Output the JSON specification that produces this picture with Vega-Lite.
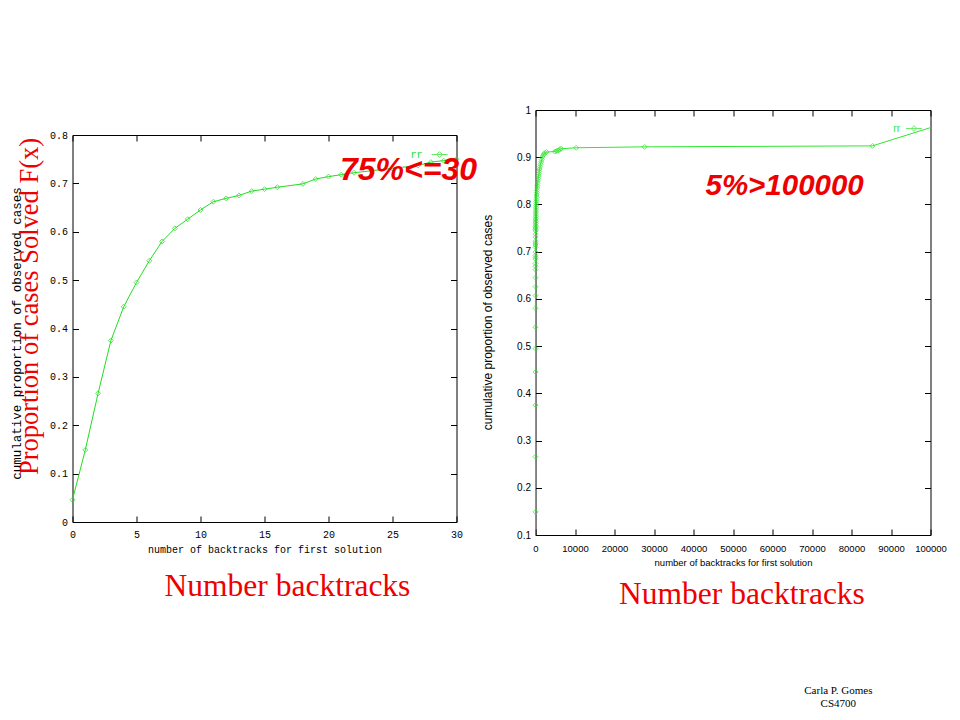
{
  "$schema": "https://vega.github.io/schema/vega-lite/v6.json",
  "background": "white",
  "padding": {"left": 10.5, "top": 105, "right": 5, "bottom": 5},
  "config": {
    "view": {"stroke": null},
    "axis": {"grid": false, "domainColor": "black", "tickColor": "black", "labelColor": "black", "titleColor": "black", "titleFontWeight": "normal", "domainWidth": 1, "tickWidth": 1, "labelOverlap": false, "labelFlush": false}
  },
  "datasets": {
    "cdf": [
      {"x": 0, "p": 0.046}, {"x": 1, "p": 0.149}, {"x": 2, "p": 0.266}, {"x": 3, "p": 0.375},
      {"x": 4, "p": 0.445}, {"x": 5, "p": 0.495}, {"x": 6, "p": 0.54}, {"x": 7, "p": 0.58},
      {"x": 8, "p": 0.607}, {"x": 9, "p": 0.626}, {"x": 10, "p": 0.645}, {"x": 11, "p": 0.662},
      {"x": 12, "p": 0.669}, {"x": 13, "p": 0.675}, {"x": 14, "p": 0.684}, {"x": 15, "p": 0.688},
      {"x": 16, "p": 0.692}, {"x": 18, "p": 0.699}, {"x": 19, "p": 0.709}, {"x": 20, "p": 0.714},
      {"x": 21, "p": 0.718}, {"x": 22, "p": 0.722}, {"x": 25, "p": 0.731}, {"x": 27, "p": 0.737},
      {"x": 28, "p": 0.744}, {"x": 29, "p": 0.747}, {"x": 30, "p": 0.75},
      {"x": 33, "p": 0.753}, {"x": 37, "p": 0.756}, {"x": 42, "p": 0.76}, {"x": 48, "p": 0.763},
      {"x": 55, "p": 0.767}, {"x": 62, "p": 0.77}, {"x": 70, "p": 0.774}, {"x": 80, "p": 0.778},
      {"x": 92, "p": 0.782}, {"x": 105, "p": 0.786}, {"x": 120, "p": 0.79}, {"x": 140, "p": 0.794},
      {"x": 160, "p": 0.798}, {"x": 185, "p": 0.802}, {"x": 210, "p": 0.806}, {"x": 240, "p": 0.81},
      {"x": 270, "p": 0.815}, {"x": 300, "p": 0.82}, {"x": 340, "p": 0.825}, {"x": 380, "p": 0.83},
      {"x": 430, "p": 0.835}, {"x": 480, "p": 0.84}, {"x": 540, "p": 0.845}, {"x": 600, "p": 0.85},
      {"x": 680, "p": 0.855}, {"x": 760, "p": 0.86}, {"x": 850, "p": 0.865}, {"x": 950, "p": 0.87},
      {"x": 1050, "p": 0.875}, {"x": 1150, "p": 0.88}, {"x": 1280, "p": 0.885}, {"x": 1420, "p": 0.89},
      {"x": 1580, "p": 0.895}, {"x": 1750, "p": 0.9}, {"x": 1950, "p": 0.904}, {"x": 2150, "p": 0.907},
      {"x": 2400, "p": 0.909}, {"x": 2800, "p": 0.911}, {"x": 4900, "p": 0.912}, {"x": 5300, "p": 0.913},
      {"x": 5600, "p": 0.914}, {"x": 5900, "p": 0.915}, {"x": 6200, "p": 0.917}, {"x": 6500, "p": 0.918},
      {"x": 10300, "p": 0.92}, {"x": 27600, "p": 0.922}, {"x": 85300, "p": 0.924}, {"x": 110000, "p": 0.989}
    ]
  },
  "title": {
    "text": ["Carla P. Gomes", "CS4700"],
    "orient": "bottom", "anchor": "end", "align": "center",
    "font": "Liberation Serif", "fontSize": 11, "fontWeight": "normal", "color": "black",
    "offset": 75, "dx": -108, "lineHeight": 13
  },
  "spacing": 4,
  "resolve": {"scale": {"color": "independent"}, "legend": {"color": "independent"}},
  "hconcat": [
    {
      "spacing": 0,
      "bounds": "flush",
      "vconcat": [
        {"width": 384, "height": 25, "data": {"values": []}, "mark": "point"},
        {
          "width": 384,
          "height": 387,
          "data": {"name": "cdf"},
          "title": {
            "text": "Number  backtracks", "orient": "bottom", "anchor": "middle",
            "font": "Liberation Serif", "fontSize": 31.5, "fontWeight": "normal", "color": "#ee0000",
            "offset": 17, "dx": 23
          },
          "resolve": {"axis": {"x": "independent", "y": "independent"}},
          "layer": [
            {
              "mark": {"type": "line", "color": "#22dd22", "strokeWidth": 1, "clip": true},
              "encoding": {
                "x": {
                  "field": "x", "type": "quantitative", "scale": {"domain": [0, 30]},
                  "axis": {
                    "orient": "bottom", "values": [0, 5, 10, 15, 20, 25, 30], "format": "d",
                    "tickSize": -6, "labelPadding": 13, "labelFont": "Liberation Mono", "labelFontSize": 10,
                    "title": "number of backtracks for first solution", "titleFont": "Liberation Mono",
                    "titleFontSize": 10, "titleY": 27, "titleBaseline": "middle"
                  }
                },
                "y": {
                  "field": "p", "type": "quantitative", "scale": {"domain": [0, 0.8]},
                  "axis": {
                    "orient": "left", "values": [0, 0.1, 0.2, 0.3, 0.4, 0.5, 0.6, 0.7, 0.8], "format": "~g",
                    "tickSize": -6, "labelPadding": 11, "labelFont": "Liberation Mono", "labelFontSize": 10,
                    "title": "cumulative proportion of observed cases", "titleFont": "Liberation Mono",
                    "titleFontSize": 12.5, "titleX": -49, "titleY": 198, "titleBaseline": "bottom"
                  }
                }
              }
            },
            {
              "transform": [{"filter": "datum.x <= 30"}],
              "mark": {"type": "point", "shape": "diamond", "filled": false, "size": 25, "strokeWidth": 1, "clip": false},
              "encoding": {
                "x": {
                  "field": "x", "type": "quantitative",
                  "axis": {"orient": "top", "labels": false, "tickSize": -6, "values": [0, 5, 10, 15, 20, 25, 30], "title": null}
                },
                "y": {
                  "field": "p", "type": "quantitative",
                  "axis": {"orient": "right", "labels": false, "tickSize": -6, "values": [0, 0.1, 0.2, 0.3, 0.4, 0.5, 0.6, 0.7, 0.8], "title": null}
                },
                "color": {
                  "datum": "rr",
                  "scale": {"range": ["#22dd22"]},
                  "legend": {
                    "orient": "none", "legendX": 358.5, "legendY": 36, "title": null, "padding": 0,
                    "symbolType": "M-1,0H1M0,-0.35L0.35,0L0,0.35L-0.35,0Z", "symbolSize": 256, "symbolStrokeWidth": 1,
                    "labelAlign": "right", "labelOffset": -25.5, "labelFont": "Liberation Mono", "labelFontSize": 10,
                    "labelColor": "#22dd22"
                  }
                }
              }
            },
            {
              "data": {"values": [{"label": "75%<=30", "x": 26.25, "p": 0.728}]},
              "mark": {"type": "text", "font": "Liberation Sans", "fontStyle": "italic", "fontWeight": "bold", "fontSize": 32, "color": "#ee0000", "clip": false},
              "encoding": {
                "x": {"field": "x", "type": "quantitative", "axis": null},
                "y": {
                  "field": "p", "type": "quantitative",
                  "axis": {
                    "orient": "left", "labels": false, "ticks": false, "domain": false,
                    "title": "Proportion of cases Solved F(x)", "titleFont": "Liberation Serif", "titleFontSize": 26.5,
                    "titleColor": "#ee0000", "titleX": -29, "titleY": 171, "titleBaseline": "bottom"
                  }
                },
                "text": {"field": "label"}
              }
            }
          ]
        }
      ]
    },
    {
      "width": 395,
      "height": 425,
      "data": {"name": "cdf"},
      "title": {
        "text": "Number  backtracks", "orient": "bottom", "anchor": "middle",
        "font": "Liberation Serif", "fontSize": 31.5, "fontWeight": "normal", "color": "#ee0000",
        "offset": 12, "dx": 9
      },
      "resolve": {"axis": {"x": "independent", "y": "independent"}},
      "layer": [
        {
          "mark": {"type": "line", "color": "#2ee82e", "strokeWidth": 1, "clip": true},
          "encoding": {
            "x": {
              "field": "x", "type": "quantitative", "scale": {"domain": [0, 100000]},
              "axis": {
                "orient": "bottom", "values": [0, 10000, 20000, 30000, 40000, 50000, 60000, 70000, 80000, 90000, 100000], "format": "d",
                "tickSize": -6, "labelPadding": 14, "labelFont": "Liberation Sans", "labelFontSize": 9.5,
                "title": "number of backtracks for first solution", "titleFont": "Liberation Sans",
                "titleFontSize": 9.5, "titleY": 27, "titleBaseline": "middle"
              }
            },
            "y": {
              "field": "p", "type": "quantitative", "scale": {"domain": [0.1, 1]},
              "axis": {
                "orient": "left", "values": [0.1, 0.2, 0.3, 0.4, 0.5, 0.6, 0.7, 0.8, 0.9, 1], "format": "~g",
                "tickSize": -6, "labelPadding": 11, "labelFont": "Liberation Sans", "labelFontSize": 10,
                "title": "cumulative proportion of observed cases", "titleFont": "Liberation Sans",
                "titleFontSize": 12, "titleX": -41, "titleY": 212, "titleBaseline": "bottom"
              }
            }
          }
        },
        {
          "transform": [{"filter": "datum.p >= 0.1 && datum.x <= 100000"}],
          "mark": {"type": "point", "shape": "diamond", "filled": false, "size": 25, "strokeWidth": 1, "clip": false},
          "encoding": {
            "x": {
              "field": "x", "type": "quantitative",
              "axis": {"orient": "top", "labels": false, "tickSize": -6, "values": [0, 10000, 20000, 30000, 40000, 50000, 60000, 70000, 80000, 90000, 100000], "title": null}
            },
            "y": {
              "field": "p", "type": "quantitative",
              "axis": {"orient": "right", "labels": false, "tickSize": -6, "values": [0.1, 0.2, 0.3, 0.4, 0.5, 0.6, 0.7, 0.8, 0.9, 1], "title": null}
            },
            "color": {
              "datum": "rr",
              "scale": {"range": ["#2ee82e"]},
              "legend": {
                "orient": "none", "legendX": 370, "legendY": 10, "title": null, "padding": 0,
                "symbolType": "M-1,0H1M0,-0.35L0.35,0L0,0.35L-0.35,0Z", "symbolSize": 256, "symbolStrokeWidth": 1,
                "labelAlign": "right", "labelOffset": -22.5, "labelFont": "Liberation Sans", "labelFontSize": 10,
                "labelColor": "#2ee82e"
              }
            }
          }
        },
        {
          "data": {"values": [{"label": "5%>100000", "x": 63070, "p": 0.839}]},
          "mark": {"type": "text", "font": "Liberation Sans", "fontStyle": "italic", "fontWeight": "bold", "fontSize": 29.5, "color": "#ee0000", "clip": false},
          "encoding": {
            "x": {"field": "x", "type": "quantitative", "axis": null},
            "y": {"field": "p", "type": "quantitative", "axis": null},
            "text": {"field": "label"}
          }
        }
      ]
    }
  ]
}
